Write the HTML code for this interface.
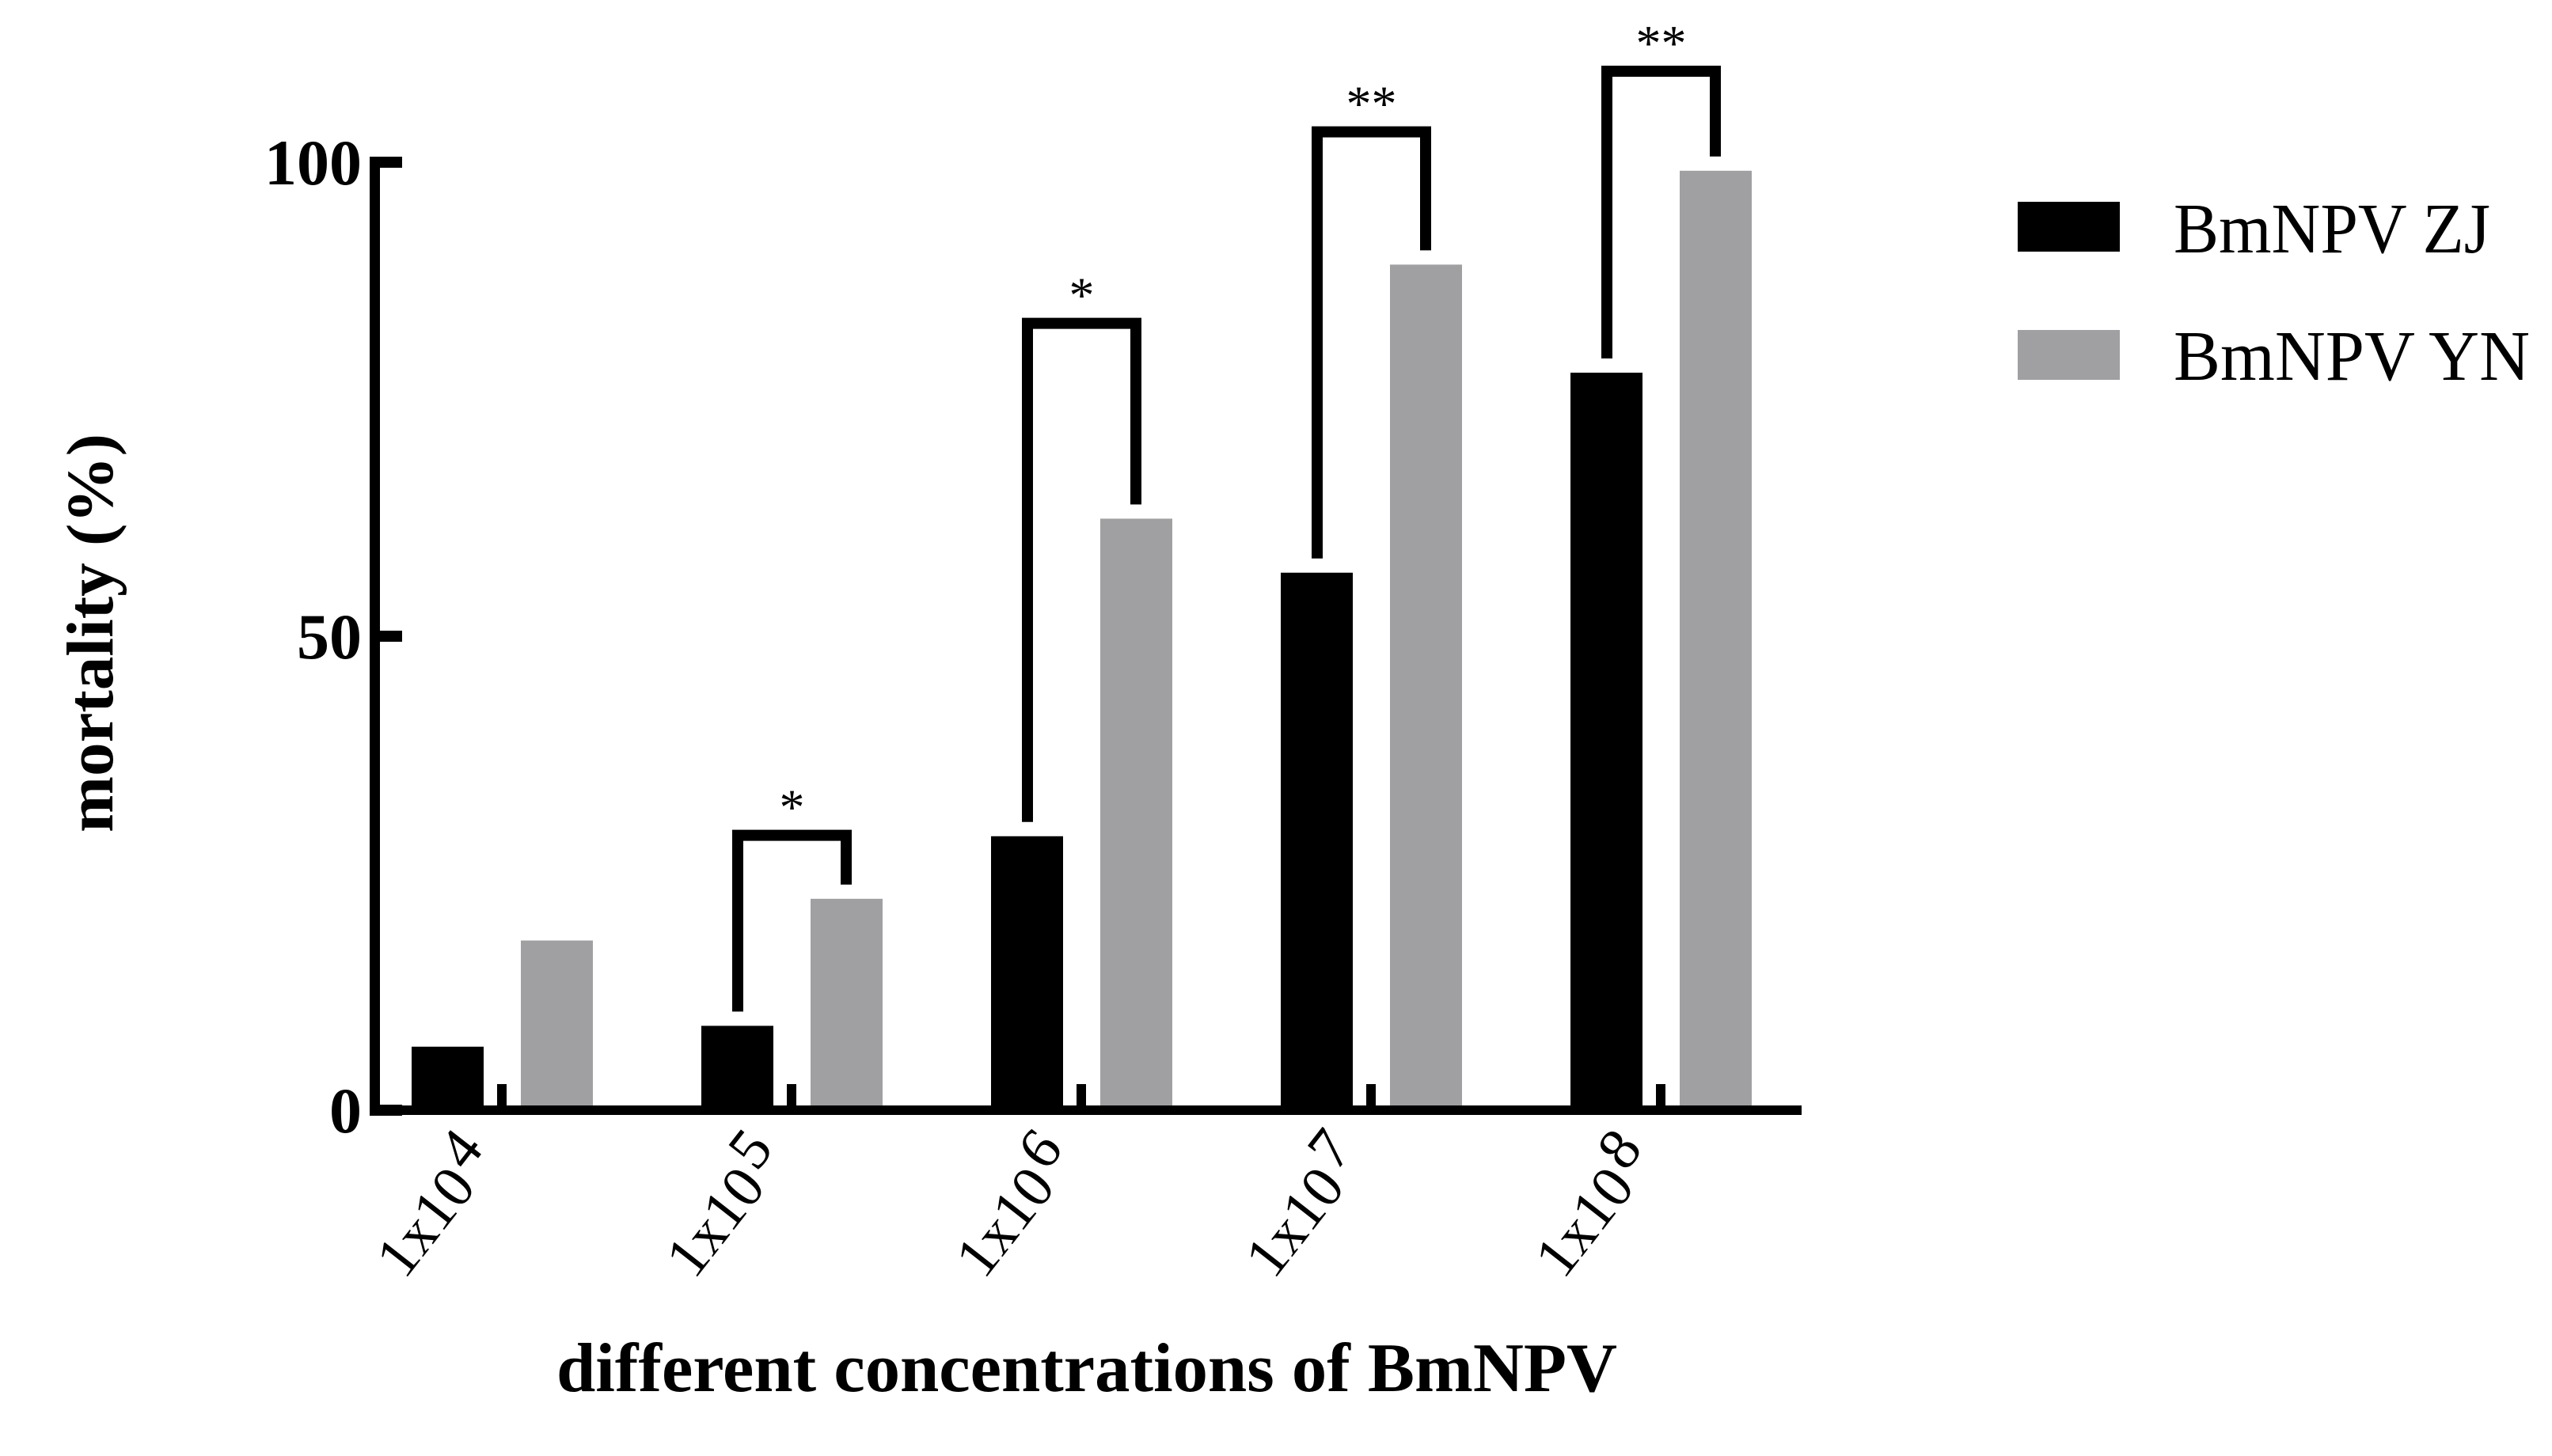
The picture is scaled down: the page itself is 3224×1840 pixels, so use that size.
<!DOCTYPE html>
<html><head><meta charset="utf-8"><style>
html,body{margin:0;padding:0;background:#fff;}
svg{display:block;}
text{font-family:"Liberation Serif",serif;fill:#000;}
</style></head><body>
<svg id="chart" width="3224" height="1840" viewBox="0 0 3224 1840" xmlns="http://www.w3.org/2000/svg">
<g id="marks"></g>
<g id="axes"></g>
<text transform="translate(142,800) rotate(-90)" text-anchor="middle" font-weight="bold" font-size="84" textLength="504" lengthAdjust="spacingAndGlyphs">mortality (%)</text>
<text x="1373" y="1758" text-anchor="middle" font-weight="bold" font-size="88" textLength="1340" lengthAdjust="spacingAndGlyphs">different concentrations of BmNPV</text>
<g>
  <rect x="2549" y="255" width="129" height="63" fill="#000"/>
  <text x="2746" y="319" font-size="90" textLength="400" lengthAdjust="spacingAndGlyphs">BmNPV ZJ</text>
  <rect x="2549" y="417" width="129" height="63" fill="#a0a0a3"/>
  <text x="2746" y="480" font-size="90" textLength="450" lengthAdjust="spacingAndGlyphs">BmNPV YN</text>
</g>
</svg>
<script>
const categories = ["4", "5", "6", "7", "8"];
const zjValues = [6.7, 8.9, 28.9, 56.7, 77.8];
const ynValues = [17.9, 22.3, 62.4, 89.2, 99.1];
const yTicks = [0, 50, 100];
const bracketGroups = [1, 2, 3, 4];
const bracketTops = [29.0, 83.0, 103.2, 109.6];
const bracketLabels = ["*", "*", "**", "**"];

const NS = "http://www.w3.org/2000/svg";
const y0 = 1403, yScale = 11.98;
function yPos(v){ return y0 - v * yScale; }
function xCenter(i){ return 634 + i * 366; }
function mk(tag, attrs, parent){
  const e = document.createElementNS(NS, tag);
  for (const k in attrs) e.setAttribute(k, attrs[k]);
  parent.appendChild(e);
  return e;
}
const marks = document.getElementById('marks');
const axes = document.getElementById('axes');
const barBottom = 1397;

categories.forEach((c, i) => {
  const cx = xCenter(i);
  const b1 = mk('rect', {x: cx - 114, y: yPos(zjValues[i]), width: 91, height: barBottom - yPos(zjValues[i]), fill: '#000'}, marks);
  
  
  const b2 = mk('rect', {x: cx + 24, y: yPos(ynValues[i]), width: 91, height: barBottom - yPos(ynValues[i]), fill: '#a0a0a3'}, marks);
  
  
  const t = mk('rect', {x: cx - 6, y: 1370, width: 12, height: 30, fill: '#000'}, axes);
  
  
  const ax = cx - 4, ay = 1466;
  const lbl = mk('text', {x: ax, y: ay, 'text-anchor': 'end', 'font-size': 75, transform: 'rotate(-52 ' + ax + ' ' + ay + ')'}, axes);
  
  
  lbl.appendChild(document.createTextNode('1x10'));
  const sup = mk('tspan', {dy: -22, dx: 6}, lbl);
  sup.textContent = c;
});

const ya = mk('rect', {x: 467, y: 198, width: 13, height: 1211, fill: '#000'}, axes);


const xa = mk('rect', {x: 467, y: 1397, width: 1809, height: 12, fill: '#000'}, axes);



yTicks.forEach(v => {
  const tk = mk('rect', {x: 467, y: yPos(v) - 7, width: 41, height: 14, fill: '#000'}, axes);
  
  
  const tl = mk('text', {x: 457, y: yPos(v) + 28, 'text-anchor': 'end', 'font-size': 82, 'font-weight': 'bold'}, axes);
  
  
  tl.textContent = v;
});

bracketGroups.forEach((g, k) => {
  const lx = xCenter(g) - 68, rx = xCenter(g) + 69;
  const top = yPos(bracketTops[k]);
  const lb = yPos(zjValues[g]) - 18, rb = yPos(ynValues[g]) - 18;
  const p = mk('path', {d: 'M' + lx + ' ' + lb + ' L' + lx + ' ' + top + ' L' + rx + ' ' + top + ' L' + rx + ' ' + rb, fill: 'none', stroke: '#000', 'stroke-width': 14, 'stroke-linejoin': 'miter'}, marks);
  
  
  const s = mk('text', {x: (lx + rx) / 2, y: top - 14, 'text-anchor': 'middle', 'font-size': 64}, marks);
  
  
  s.textContent = bracketLabels[k];
});
</script>
</body></html>
